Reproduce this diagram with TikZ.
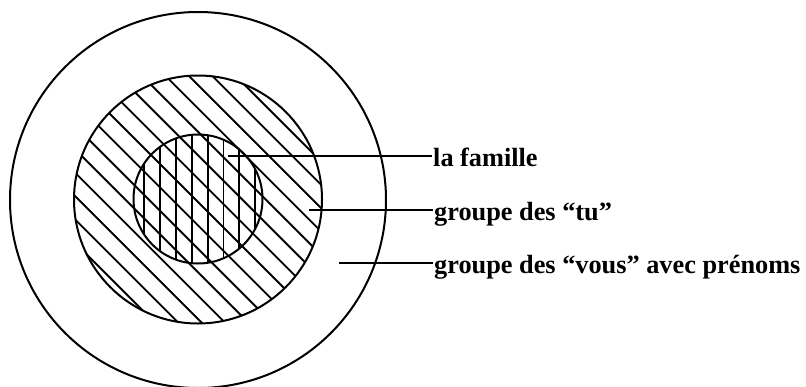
\documentclass[tikz,border=0pt]{standalone}
\usepackage{fontspec}
\setmainfont{Liberation Serif}
\begin{document}
\begin{tikzpicture}[x=1pt,y=-1pt,
  ring/.style={line width=2pt},
  hatch/.style={line width=1.9pt},
  leader/.style={line width=1.7pt},
  label/.style={anchor=base west,inner sep=1pt,
    font=\fontsize{26.3}{31}\selectfont\bfseries}]
\useasboundingbox (0,0) rectangle (806,386);

% diagonal hatching of the "tu" disc (continues through the family disc)
\begin{scope}
  \clip (198,199.5) circle[radius=124];
  \foreach \k in {-12,...,12}{
    \pgfmathsetmacro{\c}{-121+23.4*\k}
    \draw[hatch] (\c-150,-150) -- (\c+550,550);
  }
\end{scope}

% vertical hatching of the family disc
\begin{scope}
  \clip (198,199) circle[radius=64.5];
  \foreach \k in {0,...,7}{
    \pgfmathsetmacro{\xx}{144+15.9*\k}
    \draw[hatch] (\xx,120) -- (\xx,280);
  }
\end{scope}

% the three nested circles
\draw[ring] (198,200) circle[radius=188];
\draw[ring] (198,199.5) circle[radius=124];
\draw[ring] (198,199) circle[radius=64.5];

% labels
\node[label] (fam) at (432,166) {la famille};
\node[label] (tu) at (433,220) {groupe des “tu”};
\node[label] (vous) at (433,273) {groupe des “vous” avec prénoms};

% leader lines
\coordinate (famP) at (228,156);
\coordinate (tuP) at (309,210);
\coordinate (vousP) at (339,263);
\draw[leader] (famP) -- (famP -| fam.west);
\draw[leader] (tuP) -- (tuP -| tu.west);
\draw[leader] (vousP) -- (vousP -| vous.west);
\end{tikzpicture}
\end{document}
